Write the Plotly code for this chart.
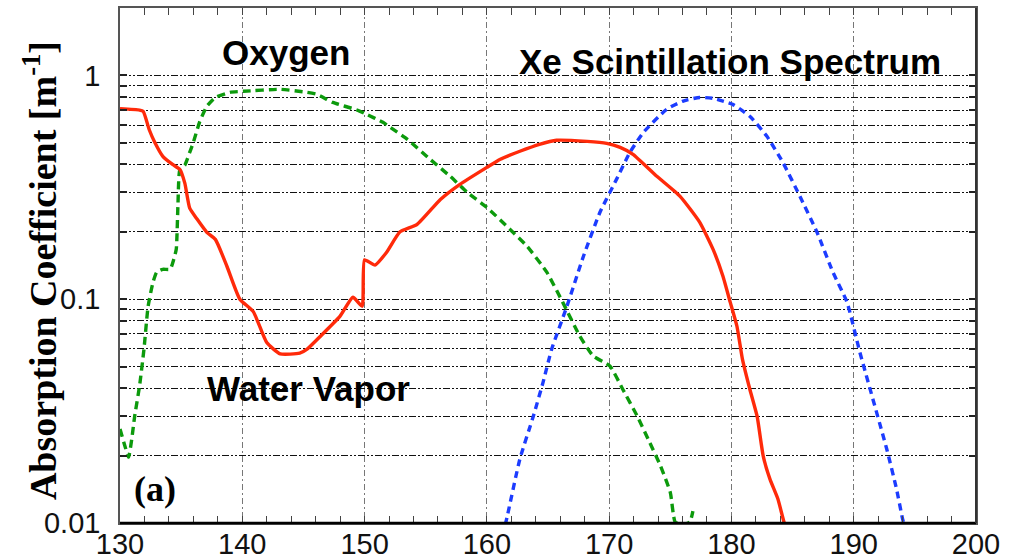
import numpy as np
import plotly.graph_objects as go

# ---- data ----
water_x = [130, 131.6, 131.9, 132.4, 132.86, 133.5, 134.3, 134.9, 135.3, 135.7, 136.3, 137.1, 137.8,
           138.75, 139.8, 140.9, 142.0, 143.1, 144.7, 145.3, 146.35, 148.0, 149.05, 149.8, 150.0,
           150.85, 151.8, 152.9, 154.3, 156.2, 157.8, 160.0, 161.1, 162.7, 164.3, 165.7, 168.2,
           169.8, 170.9, 171.95, 173.9, 175.8, 177.4, 178.5, 179.3, 179.9, 180.45, 180.9, 181.5,
           182.1, 182.6, 183.15, 183.8, 184.3, 184.6]
water_y = [0.71, 0.70, 0.69, 0.57, 0.50, 0.435, 0.40, 0.38, 0.33, 0.255, 0.228, 0.199, 0.185,
           0.14, 0.10, 0.088, 0.064, 0.057, 0.0574, 0.0598, 0.068, 0.084, 0.102, 0.093, 0.15,
           0.142, 0.162, 0.20, 0.216, 0.279, 0.326, 0.388, 0.422, 0.458, 0.492, 0.513, 0.507,
           0.497, 0.477, 0.444, 0.354, 0.288, 0.221, 0.167, 0.127, 0.097, 0.0757, 0.054, 0.0397,
           0.030, 0.0199, 0.0157, 0.0128, 0.0101, 0.0092]

oxygen_x = [130, 130.4, 130.7, 130.96, 131.2, 131.6, 131.96, 132.3, 132.7, 133.0, 133.5, 134.1,
            134.4, 134.6, 134.74, 134.9, 135.3, 135.7, 136.0, 136.5, 137.1, 137.8, 139.0, 140.1,
            143.1, 145.3, 146.1, 147.4, 149.4, 150.03, 151.5, 152.1, 153.5, 155.35, 157.0, 158.4,
            160.0, 161.9, 163.3, 164.9, 166.2, 167.6, 168.7, 170.07, 171.1, 172.3, 173.3, 174.2,
            175.0, 175.4, 176.0, 176.6, 176.85]
oxygen_y = [0.0263, 0.0221, 0.0197, 0.0237, 0.030, 0.041, 0.0598, 0.093, 0.119, 0.132, 0.136, 0.136,
            0.151, 0.167, 0.265, 0.38, 0.397, 0.453, 0.502, 0.617, 0.727, 0.797, 0.84, 0.849,
            0.866, 0.84, 0.823, 0.757, 0.70, 0.675, 0.617, 0.586, 0.518, 0.422, 0.354, 0.30,
            0.257, 0.205, 0.172, 0.132, 0.097, 0.0684, 0.0557, 0.0502, 0.0397, 0.030, 0.023, 0.018,
            0.0137, 0.0101, 0.0098, 0.0101, 0.0113]

xe_x = [161.5, 161.65, 162.7, 163.8, 164.6, 165.3, 166.55, 167.9, 169.25, 170.6, 171.7, 172.8,
        174.7, 176.0, 177.4, 178.5, 180.1, 181.5, 182.9, 184.2, 185.6, 187.0, 188.3, 189.45,
        190.5, 192.7, 193.5, 194.0, 194.2]
xe_y = [0.0098, 0.0106, 0.0193, 0.030, 0.0426, 0.0598, 0.093, 0.1556, 0.2445, 0.343, 0.453, 0.556,
        0.705, 0.766, 0.797, 0.789, 0.742, 0.656, 0.534, 0.409, 0.288, 0.199, 0.132, 0.097,
        0.058, 0.0214, 0.0142, 0.0104, 0.0095]

y_major = [0.01, 0.1, 1]
y_major_text = ["0.01", "0.1", "1"]
x_ticks = [130, 140, 150, 160, 170, 180, 190, 200]

# ---- figure ----
fig = go.Figure()
fig.add_trace(go.Scatter(x=oxygen_x, y=oxygen_y, mode="lines",
                         line=dict(color="#0c9a0c", width=3.4, dash="8px,5px",
                                   shape="spline", smoothing=0.5)))
fig.add_trace(go.Scatter(x=xe_x, y=xe_y, mode="lines",
                         line=dict(color="#1c3cff", width=3.4, dash="7px,5px",
                                   shape="spline", smoothing=0.5)))
fig.add_trace(go.Scatter(x=water_x, y=water_y, mode="lines",
                         line=dict(color="#ff2a0a", width=3.4, shape="spline", smoothing=0.5)))

# all log-decade positions for gridlines
yvals, ytext = [], []
for dec in [0.01, 0.1, 1]:
    for m in range(1, 10):
        v = round(m * dec, 6)
        if v > 2.01:
            break
        yvals.append(v)
        ytext.append(y_major_text[y_major.index(dec)] if m == 1 else "")
yvals.append(2)
ytext.append("")

tickfont = dict(family="Liberation Sans, Arial, sans-serif", size=29, color="#111")

fig.update_layout(
    width=1012, height=556,
    margin=dict(l=120, r=36, t=8, b=33),
    plot_bgcolor="white", paper_bgcolor="white",
    showlegend=False,
    xaxis=dict(range=[130, 200], tickvals=x_ticks, ticks="inside", ticklen=7, tickwidth=1.2,
               tickcolor="#444", showline=True, linecolor="#555", linewidth=1.5, mirror="ticks",
               showgrid=True, gridcolor="#777", gridwidth=1.2, griddash="6px,3px,2px,3px",
               minor=dict(dtick=2, ticks="inside", ticklen=7, tickcolor="#444", showgrid=False),
               tickfont=tickfont, zeroline=False, automargin=False, ticklabelstandoff=-6),
    yaxis=dict(type="log", range=[-2, np.log10(2)], tickvals=yvals, ticktext=ytext,
               ticks="inside", ticklen=7, tickwidth=1.5, tickcolor="#222",
               showline=True, linecolor="#555", linewidth=1.5, mirror="ticks",
               showgrid=True, gridcolor="#111", gridwidth=1.1,
               griddash="7px,2px,2px,2px,2px,2px",
               tickfont=tickfont, ticklabelstandoff=12, zeroline=False, automargin=False),
)

# heavier bottom & right borders
fig.add_shape(type="line", xref="paper", yref="paper", x0=0, x1=1, y0=0, y1=0,
              line=dict(color="black", width=2.5), layer="above")
fig.add_shape(type="line", xref="paper", yref="paper", x0=1, x1=1, y0=0, y1=1,
              line=dict(color="#333", width=2), layer="above")

sans_bold = dict(family="Liberation Sans, Arial, sans-serif", size=35, color="black")
ann = [
    ("Oxygen", 143.6, 1.27, sans_bold),
    ("Xe Scintillation Spectrum", 179.9, 1.155, sans_bold),
    ("Water Vapor", 145.45, 0.0401, sans_bold),
]
for text, x, y, f in ann:
    fig.add_annotation(x=x, y=np.log10(y), xref="x", yref="y", text="<b>%s</b>" % text,
                       showarrow=False, font=f, xanchor="center", yanchor="middle")

fig.add_annotation(x=132.86, y=np.log10(0.0142), xref="x", yref="y", text="<b>(a)</b>",
                   showarrow=False, xanchor="center", yanchor="middle",
                   font=dict(family="Liberation Serif, Times New Roman, serif", size=36, color="black"))

fig.add_annotation(x=-0.0935, y=0.491, xref="paper", yref="paper", textangle=-90,
                   text="<b>Absorption Coefficient [m<sup>-1</sup>]</b>", showarrow=False,
                   xanchor="center", yanchor="middle",
                   font=dict(family="Liberation Serif, Times New Roman, serif", size=38, color="black"))

fig.write_html("out.html")
